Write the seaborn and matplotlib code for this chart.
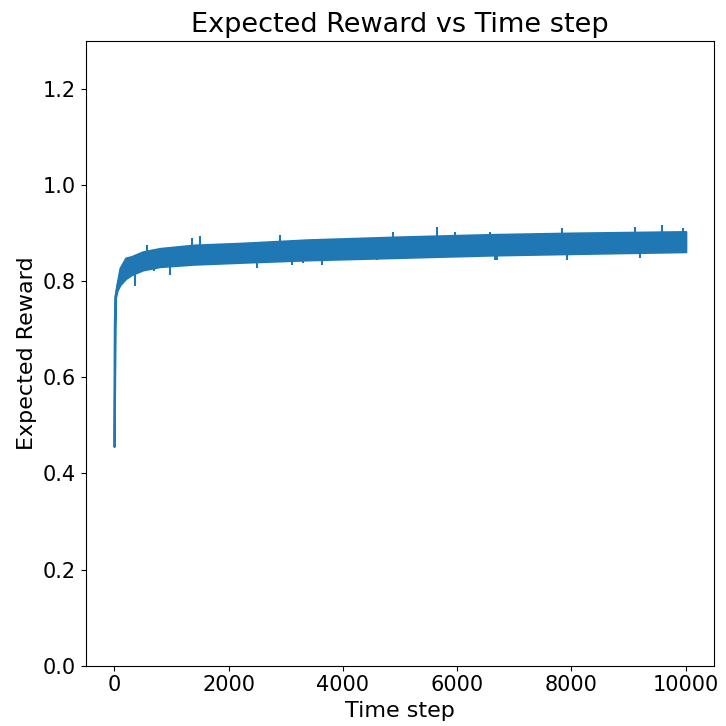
import matplotlib
matplotlib.use("Agg")
import matplotlib.pyplot as plt
import seaborn as sns
import pandas as pd

# Envelope of the noisy expected-reward trace
time_step = [0, 10, 20, 50, 100, 200, 300, 500, 800, 1400, 2250, 3400,
             5000, 6600, 8000, 10000]
reward_low = [0.456, 0.70, 0.764, 0.78, 0.792, 0.805, 0.813, 0.823, 0.830,
              0.835, 0.839, 0.844, 0.849, 0.854, 0.857, 0.861]
reward_high = [0.456, 0.72, 0.77, 0.795, 0.827, 0.848, 0.851, 0.861, 0.868,
               0.875, 0.879, 0.886, 0.892, 0.897, 0.900, 0.903]

# Individual noise spikes visible beyond the band
spike_up_t = [571, 1358, 1503, 2902, 4883, 5652, 5962, 6573, 7827, 9108, 9575, 9953]
spike_up_v = [0.875, 0.889, 0.893, 0.896, 0.903, 0.912, 0.903, 0.903, 0.910, 0.913, 0.917, 0.910]
spike_dn_t = [367, 687, 979, 2494, 3106, 3310, 3631, 4592, 6661, 6690, 7914, 9196]
spike_dn_v = [0.789, 0.820, 0.813, 0.827, 0.834, 0.837, 0.834, 0.844, 0.844, 0.844, 0.844, 0.848]

x_ticks = [0, 2000, 4000, 6000, 8000, 10000]
y_ticks = [0.0, 0.2, 0.4, 0.6, 0.8, 1.0, 1.2]

sns.set_style("ticks")
plt.rcParams['font.family'] = ['DejaVu Sans']
plt.rcParams['text.color'] = 'black'
plt.rcParams['axes.labelcolor'] = 'black'
plt.rcParams['xtick.color'] = 'black'
plt.rcParams['ytick.color'] = 'black'

df = pd.DataFrame({"t": time_step, "low": reward_low, "high": reward_high})
df["mid"] = (df["low"] + df["high"]) / 2

fig, ax = plt.subplots(figsize=(7.26, 7.26), dpi=100)
c = "#1f77b4"
ax.fill_between(df["t"], df["low"], df["high"], color=c, linewidth=1.5, edgecolor=c)
sns.lineplot(data=df, x="t", y="mid", ax=ax, color=c, linewidth=1.5)

# spikes start from inside the band
up_base = [v - 0.03 for v in spike_up_v]
dn_base = [v + 0.03 for v in spike_dn_v]
ax.vlines(spike_up_t, up_base, spike_up_v, color=c, linewidth=1.5)
ax.vlines(spike_dn_t, spike_dn_v, dn_base, color=c, linewidth=1.5)

ax.set_xlim(-500, 10500)
ax.set_ylim(0, 1.3)
ax.set_xticks(x_ticks)
ax.set_yticks(y_ticks)
ax.set_xticklabels([str(v) for v in x_ticks])
ax.set_yticklabels([f"{v:.1f}" for v in y_ticks])
ax.tick_params(labelsize=15, color="black")
ax.set_xlabel("Time step", fontsize=16)
ax.set_ylabel("Expected Reward", fontsize=16)
ax.set_title("Expected Reward vs Time step", fontsize=19.5)
for s in ax.spines.values():
    s.set_visible(True)
    s.set_color("black")
    s.set_linewidth(0.8)

fig.subplots_adjust(left=0.118, right=0.984, bottom=0.083, top=0.944)
fig.savefig("out.png", dpi=100)
